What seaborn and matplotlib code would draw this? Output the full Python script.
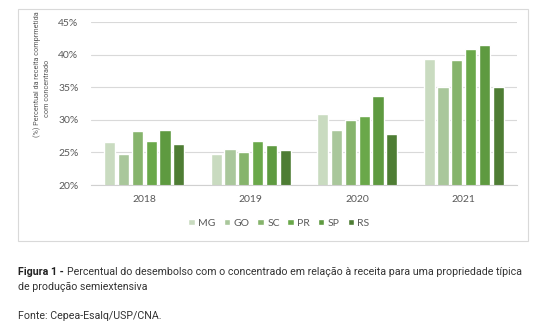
import matplotlib
matplotlib.use("Agg")
import matplotlib.pyplot as plt
import seaborn as sns
import pandas as pd
from matplotlib.patches import Rectangle
from matplotlib import font_manager as fm

years = ["2018", "2019", "2020", "2021"]
states = ["MG", "GO", "SC", "PR", "SP", "RS"]
mg = [26.6, 24.8, 30.9, 39.3]
go = [24.7, 25.5, 28.4, 35.1]
sc = [28.3, 25.0, 29.9, 39.1]
pr = [26.8, 26.7, 30.6, 40.8]
sp = [28.4, 26.1, 33.7, 41.4]
rs = [26.3, 25.4, 27.8, 35.1]
colors = ["#c9dbc0", "#a9c79b", "#86b46c", "#6aa84a", "#5e9a40", "#4e7d34"]
yticks = [20, 25, 30, 35, 40, 45]

rows = []
for st, vals in zip(states, [mg, go, sc, pr, sp, rs]):
    for y, v in zip(years, vals):
        rows.append({"year": y, "state": st, "value": v})
df = pd.DataFrame(rows)

sns.set_theme(style="white")
names = {f.name for f in fm.fontManager.ttflist}
tick_font = "Lato" if "Lato" in names else "DejaVu Sans"
cap_font = "Roboto" if "Roboto" in names else "Liberation Sans"
plt.rcParams["font.family"] = [tick_font, "DejaVu Sans"]

W, H = 541, 332
fig = plt.figure(figsize=(W / 100, H / 100), dpi=100)
fig.patch.set_facecolor("white")
fig.patches.append(Rectangle((18 / W, 1 - 241 / H), 510 / W, 232 / H,
                             transform=fig.transFigure, fill=False,
                             edgecolor="#d9d9d9", linewidth=0.8))

ax = fig.add_axes([91 / W, 1 - 185 / H, 426 / W, 163 / H])
sns.barplot(data=df, x="year", y="value", hue="state", order=years,
            hue_order=states, palette=colors, width=0.78, gap=0.2,
            saturation=1, ax=ax, legend=True)
ax.set_ylim(20, 45)
ax.set_yticks(yticks)
ax.set_yticklabels([f"{t}%" for t in yticks])
ax.set_xlabel("")
ax.set_ylabel("")
ax.grid(axis="y", color="#d9d9d9", linewidth=0.8)
ax.set_axisbelow(True)
for s in ["top", "right", "left"]:
    ax.spines[s].set_visible(False)
ax.spines["bottom"].set_color("#d0d0d0")
ax.spines["bottom"].set_linewidth(0.8)
ax.tick_params(axis="both", length=0, labelsize=7.5, labelcolor="#595959")
ax.tick_params(axis="y", pad=9)
ax.tick_params(axis="x", pad=7)

h, l = ax.get_legend_handles_labels()
ax.get_legend().remove()
fig.legend(h, l, loc="center", bbox_to_anchor=(279 / W, 1 - 223 / H),
           ncol=6, frameon=False, fontsize=7.5, handlelength=0.6,
           handleheight=0.6, handletextpad=0.35, columnspacing=0.75,
           labelcolor="#595959")

renderer = fig.canvas.get_renderer()

ylab_fam = [cap_font, "DejaVu Sans"]
t1 = fig.text(37 / W, 1 - 74 / H, "(%) Percentual da receita comprmetida",
              rotation=90, ha="center", va="center", color="#595959",
              fontsize=7, family=ylab_fam)
ylab_size = 7 * 126 / t1.get_window_extent(renderer).height
t1.set_fontsize(ylab_size)
fig.text(47.5 / W, 1 - 88 / H, "com concentrado", rotation=90, ha="center",
         va="center", color="#595959", fontsize=ylab_size, family=ylab_fam)

cap_fam = [cap_font, "DejaVu Sans"]
bold = fig.text(18 / W, 1 - 272 / H, "Figura 1 -", fontsize=8, fontweight="bold",
                family=cap_fam, color="#222222", va="center")
bbb = bold.get_window_extent(renderer)
rest = fig.text((bbb.x1 + 3) / W, 1 - 272 / H,
                "Percentual do desembolso com o concentrado em relação à receita para uma propriedade típica",
                fontsize=8, family=cap_fam, color="#333333", va="center")
rb = rest.get_window_extent(renderer)
cap_size = 8 * (525 - 18) / (rb.x1 - 18)
bold.set_fontsize(cap_size)
bbb = bold.get_window_extent(renderer)
rest.set_fontsize(cap_size)
rest.set_x((bbb.x1 + 3) / W)
fig.text(18 / W, 1 - 287 / H, "de produção semiextensiva",
         fontsize=cap_size, family=cap_fam, color="#333333", va="center")
fig.text(18 / W, 1 - 316 / H, "Fonte: Cepea-Esalq/USP/CNA.",
         fontsize=cap_size, family=cap_fam, color="#333333", va="center")

fig.savefig("out.png", dpi=100)
